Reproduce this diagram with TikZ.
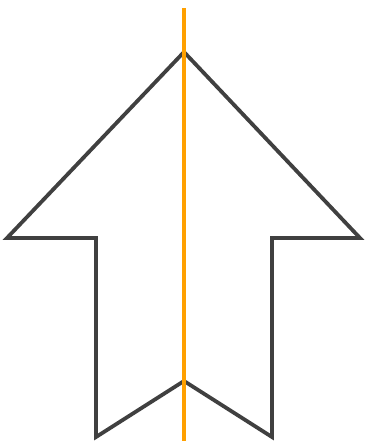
\documentclass[tikz,border=0pt]{standalone}
\usepackage{tikz}
\usetikzlibrary{calc}
\definecolor{mOutline}{HTML}{404040}
\definecolor{mAxis}{HTML}{FFA000}

\begin{document}
\begin{tikzpicture}[x=1pt,y=-1pt,line join=miter]
        \useasboundingbox (0,0) rectangle (365,441);
        \draw[mOutline,line width=3.8pt] (184,52)--(7,238)--(96,238)--(96,437)--(184,381)--(272,437)--(272,238)--(360,238)--cycle;
        \draw[mAxis,line width=4pt] (184,8)--(184,441);
      \end{tikzpicture}
\end{document}
